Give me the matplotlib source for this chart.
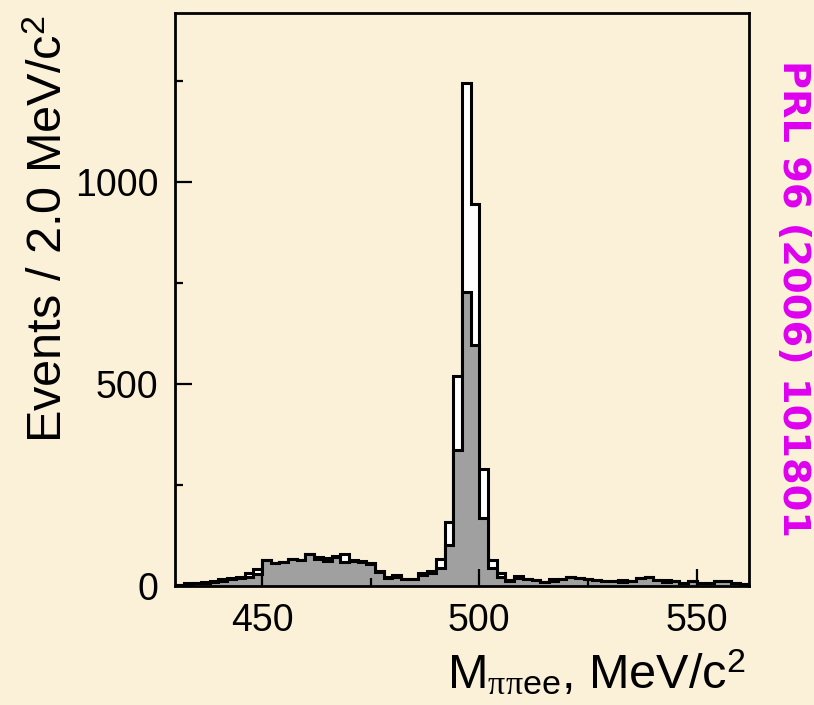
import matplotlib
matplotlib.use("Agg")
import matplotlib.pyplot as plt
import numpy as np
from matplotlib.ticker import MultipleLocator

plt.rcParams["font.family"] = ["Liberation Sans", "DejaVu Sans"]
plt.rcParams["mathtext.fontset"] = "custom"
plt.rcParams["mathtext.rm"] = "Liberation Sans"
plt.rcParams["mathtext.it"] = "Liberation Serif"
plt.rcParams["mathtext.bf"] = "Liberation Sans:bold"

PAPER = "#FBF0D8"

# 2 MeV/c^2 bins, 430 -> 562 MeV/c^2
bin_lo, bin_hi, bin_width = 430, 562, 2

# all candidates (open histogram)
all_events = [
    3, 6, 8, 10, 11, 16, 19, 21, 33, 41,
    63, 57, 58, 66, 64, 80, 72, 68, 74, 79,
    64, 61, 57, 36, 21, 26, 18, 18, 32, 36,
    67, 159, 521, 1245, 945, 290, 64, 33, 14, 25,
    18, 15, 10, 18, 18, 22, 20, 18, 15, 11,
    11, 15, 11, 20, 22, 14, 15, 11, 8, 13,
    8, 8, 11, 13, 8, 5,
]
# selected candidates (shaded histogram)
selected_events = [
    3, 4, 6, 8, 9, 12, 18, 20, 23, 30,
    63, 57, 58, 66, 64, 78, 66, 62, 72, 58,
    62, 59, 55, 34, 20, 22, 17, 17, 26, 33,
    43, 102, 337, 727, 596, 169, 45, 22, 12, 20,
    16, 15, 10, 12, 18, 22, 20, 18, 15, 11,
    11, 10, 11, 20, 22, 14, 9, 11, 8, 13,
    8, 8, 11, 13, 8, 5,
]

edges = np.arange(bin_lo, bin_hi + bin_width, bin_width)

fig = plt.figure(figsize=(8.14, 7.05), dpi=100, facecolor=PAPER)
ax = fig.add_axes([0.215, 0.169, 0.705, 0.813])
ax.set_facecolor(PAPER)

ax.stairs(all_events, edges, fill=True, facecolor="white",
          edgecolor="black", lw=2.2, zorder=1)
ax.stairs(selected_events, edges, fill=True, facecolor="#A0A0A0",
          edgecolor="black", lw=2.2, zorder=1.5)

ax.set_xlim(bin_lo, bin_hi)
ax.set_ylim(0, 1420)

ax.xaxis.set_major_locator(MultipleLocator(50))
ax.xaxis.set_minor_locator(MultipleLocator(25))
ax.yaxis.set_major_locator(MultipleLocator(500))
ax.yaxis.set_minor_locator(MultipleLocator(250))
ax.tick_params(which="both", direction="in", top=False, right=False,
               width=1.6, color="black", labelsize=27, pad=12)
ax.tick_params(which="major", length=12)
ax.tick_params(which="minor", length=6)

for s in ax.spines.values():
    s.set_linewidth(2.0)

fig.text(0.061, 0.979, r"Events / 2.0 MeV/c$^{\mathrm{2}}$", rotation=90,
         ha="center", va="top", fontsize=35)
fig.text(0.916, 0.024, r"$\mathrm{M}_{\pi\pi\mathrm{ee}}$, MeV/c$^{\mathrm{2}}$",
         ha="right", va="baseline", fontsize=35)
fig.text(0.974, 0.576, "PRL 96 (2006) 101801", rotation=-90,
         ha="center", va="center", fontsize=27.5, fontweight="bold",
         color="#DE00F0", family="DejaVu Sans")

fig.savefig("out.png", dpi=100, facecolor=PAPER)
